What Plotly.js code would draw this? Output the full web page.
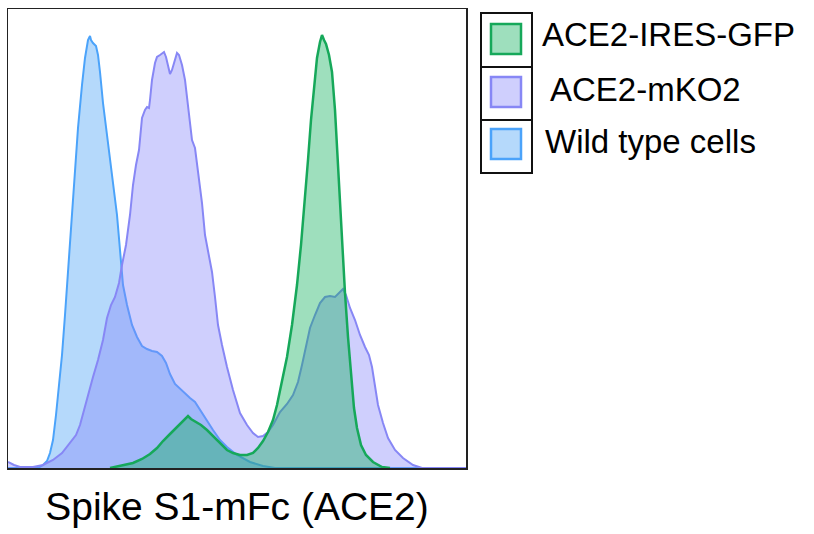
<!DOCTYPE html>
<html>
<head>
<meta charset="utf-8">
<script src="https://cdn.plot.ly/plotly-3.0.1.min.js"></script>
<style>html,body{margin:0;padding:0;background:#fff;}#chart{width:814px;height:534px;}</style>
</head>
<body>
<div id="chart"></div>
<script>
// Fluorescence bin (x) and cell count (y) for each histogram
const seriesNames = ["ACE2-IRES-GFP", "ACE2-mKO2", "Wild type cells"];

const wtX = [0,30,35,39,42,45,48,51,54,57,60,64,67,70,74,77,80,82,83,85,88,90,92,95,99,102,105,109,112,115,119,124,129,134,139,144,149,154,158,162,167,172,177,182,187,192,199,205,212,219,229,242,255,267,458];
const wtY = [0,0,3,7,15,28,53,83,113,153,198,253,298,340,383,410,428,432,428,425,422,413,396,365,333,308,281,253,218,183,163,143,131,122,119,117,116,112,105,94,84,79,75,70,66,58,48,38,28,21,13,6,2,0,0];

const mkoX = [0,6,12,25,35,45,54,62,68,72,76,80,85,90,95,99,103,107,111,114,118,122,125,128,131,134,137,139,141,142,144,147,149,152,154,156,158,160,162,164,167,169,171,174,177,180,182,184,187,190,194,197,201,204,207,210,214,219,225,232,239,245,250,255,260,265,272,279,285,290,294,298,302,307,312,317,322,327,331,335,338,342,347,352,357,361,364,367,370,375,380,387,395,405,414,458];
const mkoY = [6,3,1,1,3,8,15,25,33,43,58,75,91,108,128,150,163,171,185,203,223,253,283,303,318,350,358,361,360,368,388,405,411,413,415,416,411,402,394,398,410,415,413,403,388,363,346,328,320,298,265,233,213,196,171,143,123,101,78,55,43,35,31,32,36,43,56,64,73,86,103,123,140,153,165,171,172,171,175,179,173,160,148,133,121,113,101,83,63,45,30,18,10,3,0,0];

const gfpX = [102,107,117,125,134,142,149,155,162,169,174,178,180,183,188,193,199,204,209,214,219,225,232,239,245,250,255,260,265,269,274,279,284,289,293,297,300,303,306,309,312,314,316,318,321,324,327,329,332,335,337,340,343,346,349,353,358,365,374,382];
const gfpY = [0,1,3,5,9,14,20,27,34,41,47,50,52,49,46,43,38,33,28,23,18,15,13,13,15,20,27,36,48,63,86,111,143,183,223,268,308,348,383,410,426,433,428,424,413,396,358,320,268,216,175,131,93,60,40,23,13,6,1,0];

const lineColors = ["rgb(22,168,90)", "rgb(135,135,245)", "rgb(75,163,250)"];
const fillColors = ["rgba(13,175,90,0.4)", "rgba(135,135,250,0.4)", "rgba(70,160,245,0.4)"];

const xs = [gfpX, mkoX, wtX];
const ys = [gfpY, mkoY, wtY];
const widths = [2.5, 2, 2];

// draw order: wild type first, then mKO2, then GFP on top
const order = [2, 1, 0];
const traces = order.map(i => ({
  type: "scatter", mode: "lines", name: seriesNames[i],
  x: xs[i], y: ys[i], fill: "tozeroy",
  fillcolor: fillColors[i],
  line: {color: lineColors[i], width: widths[i], shape: "linear"},
  showlegend: false, hoverinfo: "skip"
}));

// plot area in pixels
const L = 8, R = 466, T = 9, B = 468, W = 814, H = 534;
const px = v => (v - L) / (R - L);
const py = v => (B - v) / (B - T);

const shapes = [];
const annotations = [];
// legend frame
shapes.push({type: "rect", xref: "paper", yref: "paper", x0: px(481), x1: px(532), y0: py(173), y1: py(13), line: {color: "#111", width: 2}, fillcolor: "rgba(0,0,0,0)"});
shapes.push({type: "line", xref: "paper", yref: "paper", x0: px(481), x1: px(532), y0: py(67), y1: py(67), line: {color: "#111", width: 2}});
shapes.push({type: "line", xref: "paper", yref: "paper", x0: px(481), x1: px(532), y0: py(120), y1: py(120), line: {color: "#111", width: 2}});
const swTop = [24, 77, 129];
const txtY = [35, 89, 141];
const txtX = [540, 548, 543];
for (let i = 0; i < 3; i++) {
  shapes.push({type: "rect", xref: "paper", yref: "paper", x0: px(491), x1: px(521), y0: py(swTop[i] + 30), y1: py(swTop[i]),
    line: {color: lineColors[i], width: 2.5}, fillcolor: fillColors[i]});
  annotations.push({xref: "paper", yref: "paper", x: px(txtX[i]), y: py(txtY[i]), xanchor: "left", yanchor: "middle",
    text: seriesNames[i], showarrow: false, font: {family: "Liberation Sans, Arial, sans-serif", size: 33, color: "#000"}});
}

const layout = {
  width: W, height: H,
  margin: {l: L, r: W - R, t: T, b: H - B, pad: 0},
  paper_bgcolor: "#fff", plot_bgcolor: "#fff",
  showlegend: false,
  xaxis: {range: [0, 458], showgrid: false, zeroline: false, showticklabels: false, ticks: "",
    showline: true, mirror: true, linecolor: "#222", linewidth: 1.5,
    title: {text: "Spike S1-mFc (ACE2)", standoff: 24, font: {family: "Liberation Sans, Arial, sans-serif", size: 39, color: "#000"}}},
  yaxis: {range: [0, 459], showgrid: false, zeroline: false, showticklabels: false, ticks: "",
    showline: true, mirror: true, linecolor: "#222", linewidth: 1.5},
  shapes: shapes,
  annotations: annotations
};

Plotly.newPlot("chart", traces, layout, {displayModeBar: false, staticPlot: true});
</script>
</body>
</html>
